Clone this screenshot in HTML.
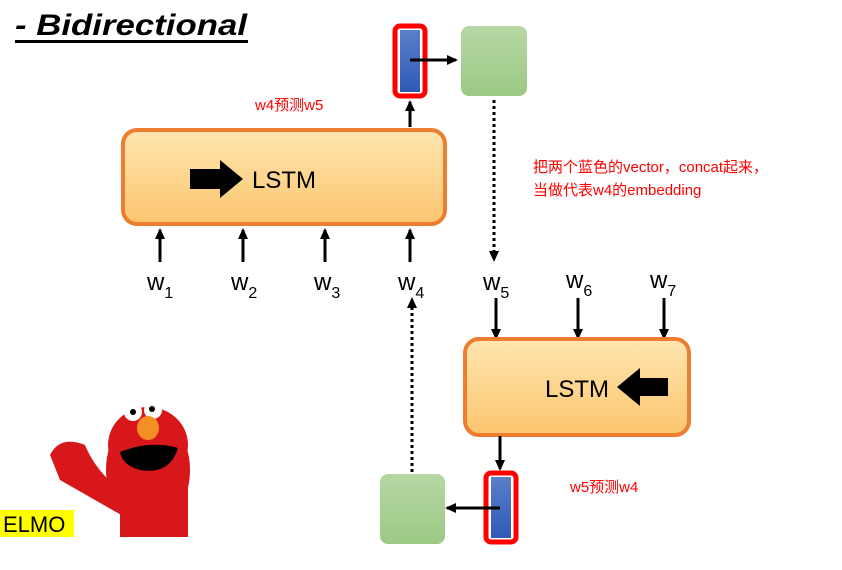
<!DOCTYPE html>
<html><head><meta charset="utf-8"><style>body{margin:0;background:#fff}svg{display:block}</style></head><body>
<svg width="842" height="570" viewBox="0 0 842 570" xmlns="http://www.w3.org/2000/svg" font-family="Liberation Sans, 'Noto Sans CJK SC', sans-serif">
<defs>
<linearGradient id="og" x1="0" y1="0" x2="0" y2="1"><stop offset="0" stop-color="#FFE6B0"/><stop offset="1" stop-color="#FBC56E"/></linearGradient>
<linearGradient id="gg" x1="0" y1="0" x2="0" y2="1"><stop offset="0" stop-color="#B6D7A4"/><stop offset="1" stop-color="#9CC985"/></linearGradient>
<linearGradient id="bg" x1="0" y1="0" x2="0" y2="1"><stop offset="0" stop-color="#5B7FC8"/><stop offset="1" stop-color="#2E5BB8"/></linearGradient>
<marker id="ah" markerWidth="12" markerHeight="12" refX="9" refY="6" orient="auto" markerUnits="userSpaceOnUse"><path d="M0,1 L11,6 L0,11 z"/></marker>
</defs>
<text x="15" y="35" font-size="30" font-weight="bold" font-style="italic" textLength="232" lengthAdjust="spacingAndGlyphs">- Bidirectional</text>
<rect x="15" y="40" width="233" height="3"/>
<rect x="395" y="26" width="30" height="70" rx="5" fill="#fff" stroke="#F00" stroke-width="5"/>
<rect x="400" y="30" width="20" height="62" fill="url(#bg)"/>
<rect x="461" y="26" width="66" height="70" rx="8" fill="url(#gg)"/>
<line x1="410" y1="60" x2="456" y2="60" stroke="#000" stroke-width="3" marker-end="url(#ah)"/>
<line x1="494" y1="100" x2="494" y2="260" stroke="#000" stroke-width="3" stroke-dasharray="3,3" marker-end="url(#ah)"/>
<text x="255" y="110" font-size="15" fill="#F00">w4预测w5</text>
<rect x="123" y="130" width="322" height="94" rx="14" fill="url(#og)" stroke="#ED7D31" stroke-width="4"/>
<path d="M190,169 L220,169 L220,160 L243,179 L220,198 L220,189 L190,189 z" fill="#000"/>
<text x="252" y="188" font-size="24">LSTM</text>
<line x1="410" y1="127" x2="410" y2="102" stroke="#000" stroke-width="3" marker-end="url(#ah)"/>
<g stroke="#000" stroke-width="3">
<line x1="160" y1="262" x2="160" y2="230" marker-end="url(#ah)"/>
<line x1="243" y1="262" x2="243" y2="230" marker-end="url(#ah)"/>
<line x1="325" y1="262" x2="325" y2="230" marker-end="url(#ah)"/>
<line x1="410" y1="262" x2="410" y2="230" marker-end="url(#ah)"/>
<line x1="496" y1="298" x2="496" y2="338" marker-end="url(#ah)"/>
<line x1="578" y1="298" x2="578" y2="338" marker-end="url(#ah)"/>
<line x1="664" y1="298" x2="664" y2="338" marker-end="url(#ah)"/>
</g>
<g font-size="24">
<text x="147" y="290">w<tspan font-size="16" dy="8">1</tspan></text>
<text x="231" y="290">w<tspan font-size="16" dy="8">2</tspan></text>
<text x="314" y="290">w<tspan font-size="16" dy="8">3</tspan></text>
<text x="398" y="290">w<tspan font-size="16" dy="8">4</tspan></text>
<text x="483" y="290">w<tspan font-size="16" dy="8">5</tspan></text>
<text x="566" y="288">w<tspan font-size="16" dy="8">6</tspan></text>
<text x="650" y="288">w<tspan font-size="16" dy="8">7</tspan></text>
</g>
<text x="533" y="172" font-size="15" fill="#F00">把两个蓝色的vector，concat起来，</text>
<text x="533" y="195" font-size="15" fill="#F00">当做代表w4的embedding</text>
<rect x="465" y="339" width="224" height="96" rx="14" fill="url(#og)" stroke="#ED7D31" stroke-width="4"/>
<text x="545" y="397" font-size="24">LSTM</text>
<path d="M668,378 L640,378 L640,368 L617,387 L640,406 L640,396 L668,396 z" fill="#000"/>
<line x1="500" y1="436" x2="500" y2="469" stroke="#000" stroke-width="3" marker-end="url(#ah)"/>
<rect x="486" y="473" width="30" height="69" rx="5" fill="#fff" stroke="#F00" stroke-width="5"/>
<rect x="491" y="477" width="20" height="61" fill="url(#bg)"/>
<rect x="380" y="474" width="65" height="70" rx="8" fill="url(#gg)"/>
<line x1="500" y1="508" x2="447" y2="508" stroke="#000" stroke-width="3" marker-end="url(#ah)"/>
<line x1="412" y1="472" x2="412" y2="299" stroke="#000" stroke-width="3" stroke-dasharray="3,3" marker-end="url(#ah)"/>
<text x="570" y="492" font-size="15" fill="#F00">w5预测w4</text>
<g fill="#D8171B">
<ellipse cx="148" cy="470" rx="42" ry="58"/>
<ellipse cx="148" cy="445" rx="40" ry="38"/>
<path d="M50,455 Q60,435 85,445 Q95,470 120,490 L130,520 Q95,500 60,480 z"/>
<rect x="120" y="480" width="68" height="57"/>
</g>
<circle cx="133" cy="412" r="9" fill="#fff"/><circle cx="153" cy="410" r="9" fill="#fff"/>
<circle cx="133" cy="412" r="3" fill="#000"/><circle cx="152" cy="409" r="3" fill="#000"/>
<ellipse cx="148" cy="428" rx="11" ry="12" fill="#F39024"/>
<path d="M120,452 Q150,440 178,448 Q170,475 140,470 Q122,465 120,452 z" fill="#000"/>
<rect x="0" y="510" width="74" height="27" fill="#FFFF00"/>
<text x="3" y="532" font-size="22">ELMO</text>
</svg>
</body></html>
